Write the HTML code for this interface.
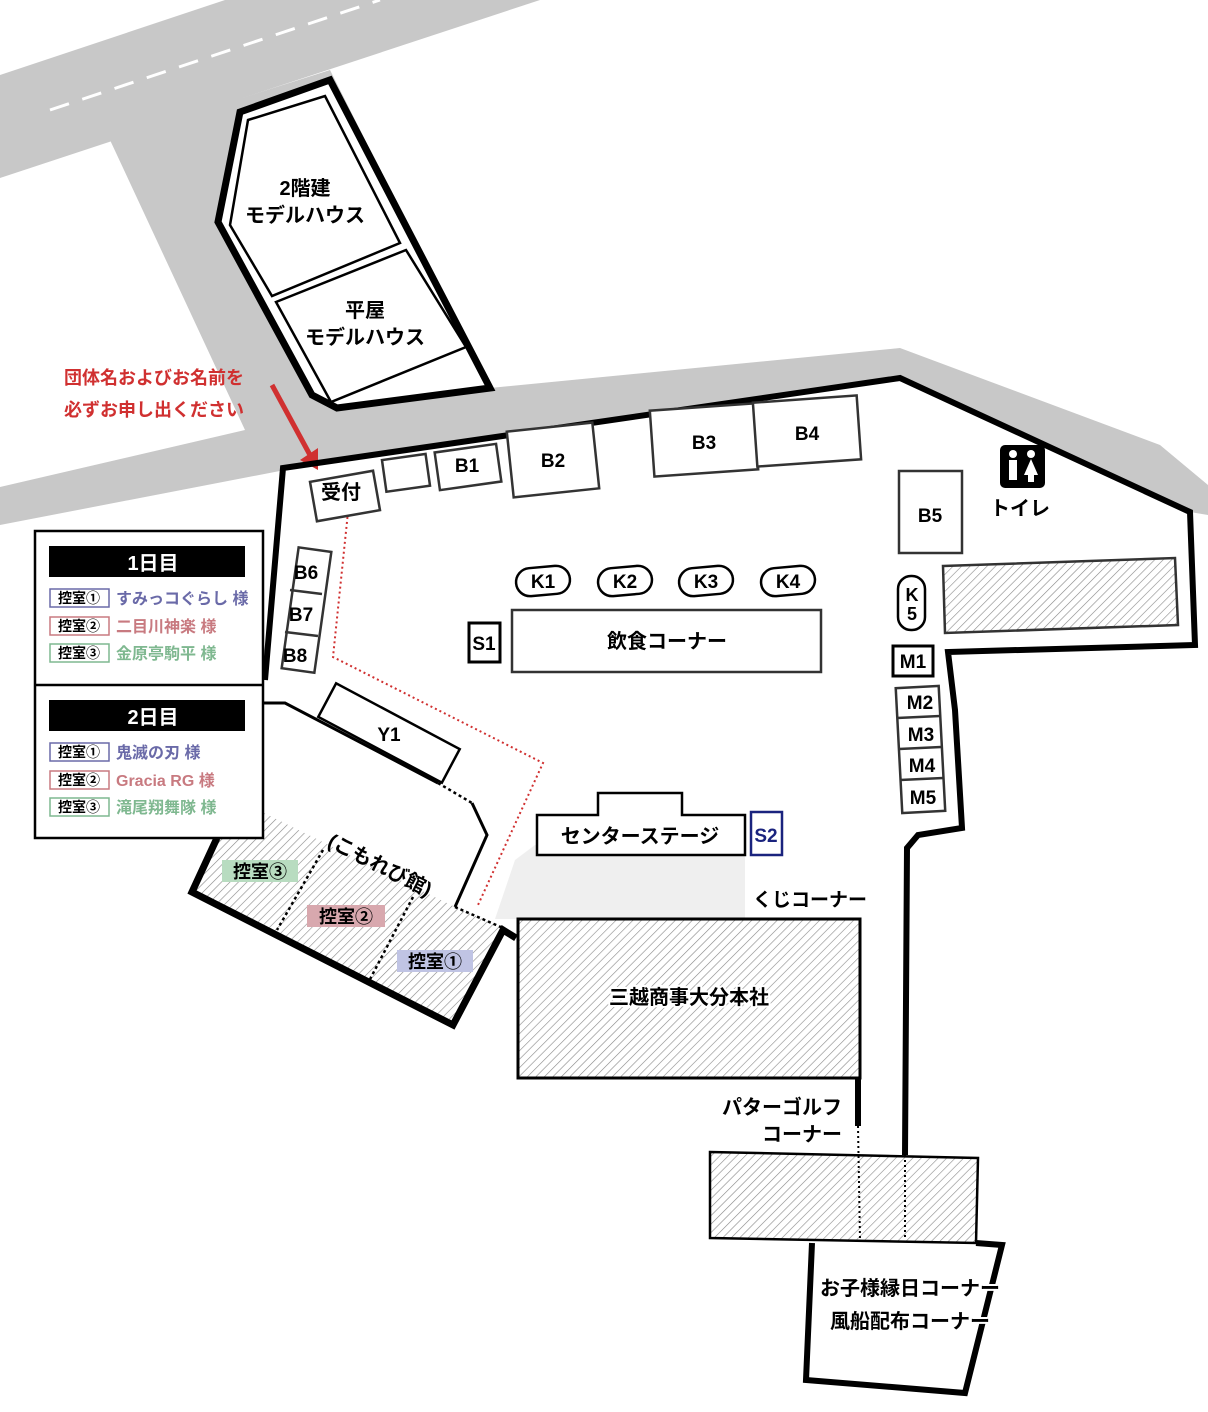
<!DOCTYPE html>
<html><head><meta charset="utf-8">
<style>
html,body{margin:0;padding:0;background:#fff;}
svg{display:block;}
text{font-family:"Liberation Sans","Noto Sans CJK JP",sans-serif;font-weight:bold;}
</style></head><body>
<svg width="1208" height="1412" viewBox="0 0 1208 1412" xmlns="http://www.w3.org/2000/svg">
<defs>
<pattern id="h" patternUnits="userSpaceOnUse" width="6" height="6" patternTransform="rotate(45)">
<rect width="6" height="6" fill="#fff"/>
<line x1="0" y1="0" x2="0" y2="6" stroke="#888" stroke-width="1.2"/>
</pattern>
</defs>
<polygon points="0,75 225,0 540,0 0,178" fill="#c8c8c8"/>
<polygon points="110,140 330,70 490,388 900,348 1160,445 1208,485 1208,515 1190,512 900,378 285,465 285,470 0,525 0,487 245,430" fill="#c8c8c8"/>
<line x1="50" y1="110" x2="380" y2="0" stroke="#fff" stroke-width="3" stroke-dasharray="20,14"/>
<polygon points="240,112 330,80 490,388 337,408 312,395 218,222" fill="#fff" stroke="#000" stroke-width="7" stroke-linejoin="miter"/>
<polygon points="248,120 325,96 400,243 272,296 230,225" fill="#fff" stroke="#000" stroke-width="2.5"/>
<polygon points="276,302 406,250 466,347 331,402" fill="#fff" stroke="#000" stroke-width="2.5"/>
<text x="305" y="195" font-size="20" text-anchor="middle">2階建</text>
<text x="305" y="222" font-size="20" text-anchor="middle">モデルハウス</text>
<text x="365" y="317" font-size="20" text-anchor="middle">平屋</text>
<text x="365" y="344" font-size="20" text-anchor="middle">モデルハウス</text>
<text x="64" y="384" font-size="18" fill="#d03030">団体名およびお名前を</text>
<text x="64" y="416" font-size="18" fill="#d03030">必ずお申し出ください</text>
<line x1="272" y1="385" x2="310" y2="455" stroke="#d03030" stroke-width="5"/>
<polygon points="300,460 318,470 318,448" fill="#d03030"/>
<polyline points="265,680 283,468 900,378 1190,512 1195,645 948,652 955,710 962,828 918,835 907,848 905,1155" fill="none" stroke="#000" stroke-width="6"/>
<polygon points="535,845 745,845 745,919 495,919 515,860" fill="#efefef"/>
<polygon points="217,838 262,838 262,812 455,907 503,928 453,1025 192,892" fill="url(#h)"/>
<polyline points="217,838 192,892 453,1025 503,930 516,938" fill="none" stroke="#000" stroke-width="7"/>
<polyline points="263,703 285,703 438,783" fill="none" stroke="#000" stroke-width="3"/>
<line x1="438" y1="783" x2="472" y2="803" stroke="#000" stroke-width="2.5" stroke-dasharray="3,3"/>
<polyline points="472,803 487,835 455,907" fill="none" stroke="#000" stroke-width="3"/>
<line x1="455" y1="907" x2="503" y2="928" stroke="#000" stroke-width="2.5" stroke-dasharray="3,3"/>
<line x1="323" y1="850" x2="277" y2="930" stroke="#000" stroke-width="2.5" stroke-dasharray="3,3"/>
<line x1="413" y1="897" x2="367" y2="985" stroke="#000" stroke-width="2.5" stroke-dasharray="3,3"/>
<text x="380" y="872" font-size="20" text-anchor="middle" transform="rotate(27 380 865)">(こもれび館)</text>
<rect x="222" y="860" width="76" height="22" fill="#b8dcc0"/>
<text x="260" y="878" font-size="18" text-anchor="middle">控室③</text>
<rect x="307" y="905" width="78" height="22" fill="#d8a8ae"/>
<text x="346" y="923" font-size="18" text-anchor="middle">控室②</text>
<rect x="397" y="950" width="76" height="22" fill="#c0c4e4"/>
<text x="435" y="968" font-size="18" text-anchor="middle">控室①</text>
<g transform="rotate(28 389 733)"><rect x="319" y="714" width="140" height="38" fill="#fff" stroke="#000" stroke-width="2.5"/></g>
<text x="389" y="741" font-size="19" text-anchor="middle">Y1</text>
<polyline points="348,512 333,657 543,763 478,905" fill="none" stroke="#d03030" stroke-width="2" stroke-dasharray="2,3"/>
<rect x="35" y="531" width="228" height="307" fill="#fff" stroke="#000" stroke-width="2.5"/>
<line x1="35" y1="685" x2="263" y2="685" stroke="#000" stroke-width="2.5"/>
<rect x="49" y="546" width="196" height="31" fill="#000"/>
<text x="153" y="570" font-size="20" fill="#fff" text-anchor="middle">1日目</text>
<rect x="49" y="700" width="196" height="31" fill="#000"/>
<text x="153" y="724" font-size="20" fill="#fff" text-anchor="middle">2日目</text>
<g font-size="16">
<rect x="50" y="589" width="59" height="18" fill="#fff" stroke="#6a6aa8" stroke-width="1.5"/><text x="79" y="603" font-size="14" text-anchor="middle">控室①</text><text x="116" y="604" fill="#6a6aa8">すみっコぐらし 様</text>
<rect x="50" y="617" width="59" height="18" fill="#fff" stroke="#c87a80" stroke-width="1.5"/><text x="79" y="631" font-size="14" text-anchor="middle">控室②</text><text x="116" y="632" fill="#c87a80">二目川神楽 様</text>
<rect x="50" y="644" width="59" height="18" fill="#fff" stroke="#7fb890" stroke-width="1.5"/><text x="79" y="658" font-size="14" text-anchor="middle">控室③</text><text x="116" y="659" fill="#7fb890">金原亭駒平 様</text>
<rect x="50" y="743" width="59" height="18" fill="#fff" stroke="#6a6aa8" stroke-width="1.5"/><text x="79" y="757" font-size="14" text-anchor="middle">控室①</text><text x="116" y="758" fill="#6a6aa8">鬼滅の刃 様</text>
<rect x="50" y="771" width="59" height="18" fill="#fff" stroke="#c87a80" stroke-width="1.5"/><text x="79" y="785" font-size="14" text-anchor="middle">控室②</text><text x="116" y="786" fill="#c87a80">Gracia RG 様</text>
<rect x="50" y="798" width="59" height="18" fill="#fff" stroke="#7fb890" stroke-width="1.5"/><text x="79" y="812" font-size="14" text-anchor="middle">控室③</text><text x="116" y="813" fill="#7fb890">滝尾翔舞隊 様</text>
</g>
<g fill="#fff" stroke="#333" stroke-width="2.5">
<g transform="rotate(-10 345 496)"><rect x="313" y="476" width="64" height="40"/></g>
<g transform="rotate(-8 405 473)"><rect x="384" y="457" width="44" height="32"/></g>
<g transform="rotate(-8 468 467)"><rect x="437" y="448" width="62" height="38"/></g>
<g transform="rotate(-6 553 460)"><rect x="510" y="427" width="86" height="66"/></g>
<g transform="rotate(-4 704 440)"><rect x="652" y="407" width="104" height="66"/></g>
<g transform="rotate(-4 807 431)"><rect x="755" y="399" width="104" height="64"/></g>
<rect x="899" y="471" width="63" height="82"/>
<g transform="rotate(8 306 610)"><rect x="290" y="549" width="33" height="122"/></g>
<g transform="rotate(-3 920 750)"><rect x="899" y="687" width="43" height="125"/></g>
<polygon points="943,566 1175,558 1178,625 945,633" fill="url(#h)"/>
</g>
<g stroke="#333" stroke-width="2.5">
<line x1="290" y1="590" x2="322" y2="594"/><line x1="285" y1="632" x2="318" y2="636"/>
<line x1="897" y1="718" x2="940" y2="716"/><line x1="899" y1="749" x2="941" y2="747"/><line x1="900" y1="780" x2="943" y2="778"/>
</g>
<text x="341" y="499" font-size="20" text-anchor="middle" font-weight="normal">受付</text>
<text x="467" y="472" font-size="19" text-anchor="middle">B1</text>
<text x="553" y="467" font-size="19" text-anchor="middle">B2</text>
<text x="704" y="449" font-size="19" text-anchor="middle">B3</text>
<text x="807" y="440" font-size="19" text-anchor="middle">B4</text>
<text x="930" y="522" font-size="19" text-anchor="middle">B5</text>
<text x="306" y="579" font-size="19" text-anchor="middle">B6</text>
<text x="301" y="621" font-size="19" text-anchor="middle">B7</text>
<text x="295" y="662" font-size="19" text-anchor="middle">B8</text>
<text x="920" y="709" font-size="19" text-anchor="middle">M2</text>
<text x="921" y="741" font-size="19" text-anchor="middle">M3</text>
<text x="922" y="772" font-size="19" text-anchor="middle">M4</text>
<text x="923" y="804" font-size="19" text-anchor="middle">M5</text>
<rect x="893" y="646" width="40" height="30" fill="#fff" stroke="#000" stroke-width="3"/>
<text x="913" y="668" font-size="19" text-anchor="middle">M1</text>
<rect x="1000" y="445" width="45" height="43" rx="5" fill="#000"/>
<circle cx="1013" cy="454" r="4" fill="#fff"/><rect x="1009" y="460" width="8" height="20" fill="#fff"/>
<circle cx="1031" cy="454" r="4" fill="#fff"/><polygon points="1031,459 1024,475 1038,475" fill="#fff"/><rect x="1028" y="474" width="6" height="8" fill="#fff"/>
<text x="1020" y="515" font-size="20" text-anchor="middle" font-weight="normal">トイレ</text>
<g fill="#fff" stroke="#000" stroke-width="2.5">
<rect x="516" y="567" width="54" height="28" rx="14" transform="rotate(-5 543 581)"/>
<rect x="598" y="567" width="54" height="28" rx="14" transform="rotate(-5 625 581)"/>
<rect x="679" y="567" width="54" height="28" rx="14" transform="rotate(-5 706 581)"/>
<rect x="761" y="567" width="54" height="28" rx="14" transform="rotate(-5 788 581)"/>
<rect x="898" y="576" width="27" height="54" rx="13"/>
</g>
<text x="543" y="588" font-size="19" text-anchor="middle">K1</text>
<text x="625" y="588" font-size="19" text-anchor="middle">K2</text>
<text x="706" y="588" font-size="19" text-anchor="middle">K3</text>
<text x="788" y="588" font-size="19" text-anchor="middle">K4</text>
<text x="912" y="601" font-size="18" text-anchor="middle">K</text>
<text x="912" y="620" font-size="18" text-anchor="middle">5</text>
<rect x="512" y="610" width="309" height="62" fill="#fff" stroke="#333" stroke-width="2.5"/>
<text x="667" y="648" font-size="20" text-anchor="middle" font-weight="normal">飲食コーナー</text>
<rect x="469" y="623" width="31" height="39" fill="#fff" stroke="#000" stroke-width="3"/>
<text x="484" y="650" font-size="19" text-anchor="middle">S1</text>
<polygon points="537,815 598,815 598,793 682,793 682,815 745,815 745,855 537,855" fill="#fff" stroke="#000" stroke-width="2.5"/>
<text x="640" y="843" font-size="20" text-anchor="middle">センターステージ</text>
<rect x="751" y="812" width="31" height="43" fill="#fff" stroke="#1a237e" stroke-width="2.5"/>
<text x="766" y="842" font-size="19" fill="#1a237e" text-anchor="middle">S2</text>
<text x="810" y="906" font-size="19" text-anchor="middle" font-weight="normal">くじコーナー</text>
<rect x="518" y="919" width="342" height="159" fill="url(#h)" stroke="#000" stroke-width="3"/>
<text x="689" y="1004" font-size="20" text-anchor="middle" stroke="#fff" stroke-width="4" paint-order="stroke">三越商事大分本社</text>
<line x1="858" y1="1078" x2="858" y2="1126" stroke="#000" stroke-width="6"/>
<text x="842" y="1114" font-size="20" text-anchor="end" font-weight="normal">パターゴルフ</text>
<text x="842" y="1141" font-size="20" text-anchor="end" font-weight="normal">コーナー</text>
<polygon points="710,1152 978,1158 976,1243 710,1238" fill="url(#h)" stroke="#000" stroke-width="2.5"/>
<line x1="858" y1="1126" x2="860" y2="1240" stroke="#000" stroke-width="2" stroke-dasharray="2,3"/>
<line x1="905" y1="1155" x2="905" y2="1240" stroke="#000" stroke-width="2" stroke-dasharray="2,3"/>
<polyline points="812,1243 806,1380 965,1393 1002,1245 976,1243" fill="none" stroke="#000" stroke-width="6"/>
<text x="910" y="1295" font-size="20" text-anchor="middle" stroke="#fff" stroke-width="4" paint-order="stroke">お子様縁日コーナー</text>
<text x="910" y="1328" font-size="20" text-anchor="middle" stroke="#fff" stroke-width="4" paint-order="stroke">風船配布コーナー</text>
</svg>
</body></html>
